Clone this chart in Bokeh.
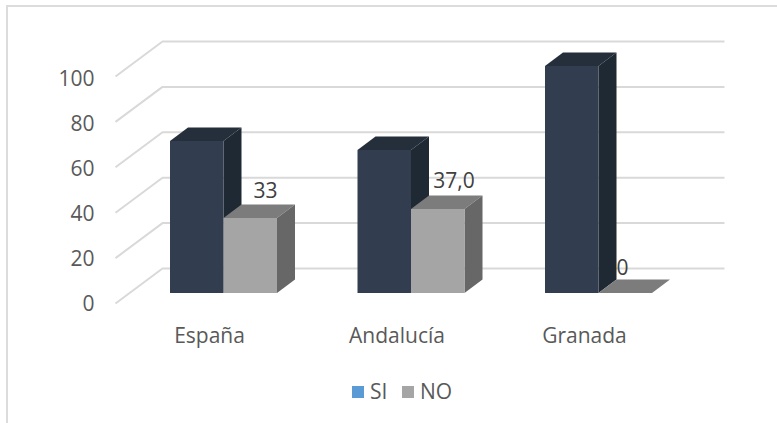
from bokeh.core.properties import value
from bokeh.embed import file_html
from bokeh.models import FixedTicker, Legend, LegendItem, LinearAxis, Range1d
from bokeh.plotting import figure
from bokeh.resources import INLINE

categories = ["España", "Andalucía", "Granada"]
si_values = [67, 63, 100]
no_values = [33, 37, 0]
no_labels = ["33", "37,0", "0"]
y_ticks = [0, 20, 40, 60, 80, 100]
series_names = ["SI", "NO"]

FONT = "Open Sans"
TXT = "#595959"
ORG_X, ORG_Y = 8, 7
LEFT, RIGHT, TOP, BOTTOM = 100, 760, 20, 412
PX_X, PX_Y, X0_PX, Y0_PX = 187.5, 2.27, 223, 292.5
BAR_W = 53.5 / PX_X
DX, DY = 18 / PX_X, 13.5 / PX_Y
WALL_DY = 24.5 / PX_Y
AXIS_DY = -10.5 / PX_Y
AXIS_PX, AXIS_Y0 = 2.25, 302
LABEL_SHIFT = -14 / PX_X
WALL_L, WALL_R, FRONT_L = (162 - X0_PX) / PX_X, (724 - X0_PX) / PX_X, (115 - X0_PX) / PX_X


def xd(px):
    return (px - X0_PX) / PX_X


def yd(px):
    return (Y0_PX - px) / PX_Y


W, H = 777 - ORG_X, 423 - ORG_Y
p = figure(width=W, height=H, output_backend="svg", toolbar_location=None,
           x_range=Range1d(xd(LEFT), xd(RIGHT)), y_range=Range1d(yd(BOTTOM), yd(TOP)),
           frame_width=RIGHT - LEFT, frame_height=BOTTOM - TOP,
           min_border_left=LEFT - ORG_X, min_border_right=777 - RIGHT,
           min_border_top=TOP - ORG_Y, min_border_bottom=423 - BOTTOM,
           x_axis_location=None, y_axis_location=None)
p.styles = {"border-left": "2px solid #DCDCDC", "border-top": "2px solid #DCDCDC",
            "margin-left": "6px", "margin-top": "5px"}
p.outline_line_color = None
p.grid.visible = False

p.extra_y_ranges = {"axis": Range1d((AXIS_Y0 - BOTTOM) / AXIS_PX, (AXIS_Y0 - TOP) / AXIS_PX)}
ya = LinearAxis(y_range_name="axis", ticker=FixedTicker(ticks=y_ticks))
ya.axis_line_color = None
ya.major_tick_line_color = None
ya.minor_tick_line_color = None
ya.major_label_standoff = 0
ya.major_label_text_font = FONT
ya.major_label_text_font_size = "21px"
ya.major_label_text_color = TXT
p.add_layout(ya, "left")

xa = LinearAxis(ticker=FixedTicker(ticks=[i + LABEL_SHIFT for i in range(len(categories))]))
xa.major_label_overrides = {i + LABEL_SHIFT: c for i, c in enumerate(categories)}
xa.axis_line_color = None
xa.major_tick_line_color = None
xa.minor_tick_line_color = None
xa.major_label_standoff = -98
xa.major_label_text_font = FONT
xa.major_label_text_font_size = "21px"
xa.major_label_text_color = TXT
p.add_layout(xa, "below")

p.multi_line(xs=[[FRONT_L, WALL_L, WALL_R] for _ in y_ticks],
             ys=[[t + AXIS_DY, t + WALL_DY, t + WALL_DY] for t in y_ticks],
             line_color="#D9D9D9", line_width=2)


def draw_bars(vals, offset, front, top, side):
    x1 = [i + offset for i in range(len(vals))]
    x2 = [x + BAR_W for x in x1]
    p.patches(xs=[[a, a + DX, b + DX, b] for a, b in zip(x1, x2)],
              ys=[[v, v + DY, v + DY, v] for v in vals], fill_color=top, line_color=None)
    p.patches(xs=[[b, b + DX, b + DX, b] for b in x2],
              ys=[[0, DY, v + DY, v] for v in vals], fill_color=side, line_color=None)
    p.quad(left=x1, right=x2, bottom=[0] * len(vals), top=vals, fill_color=front, line_color=None)


draw_bars(si_values, -BAR_W, "#323E4F", "#252F3C", "#1F2933")
draw_bars(no_values, 0, "#A5A5A5", "#7C7C7C", "#676767")

label_dx = [42 / PX_X, 43 / PX_X, 24 / PX_X]
label_dy = [27.7 / PX_Y, 29 / PX_Y, 26.5 / PX_Y]
p.text(x=[i + d for i, d in enumerate(label_dx)],
       y=[v + d for v, d in zip(no_values, label_dy)],
       text=no_labels, text_font=value(FONT), text_font_size="21px", text_color="#404040",
       text_align="center", text_baseline="middle")

nan = float("nan")
si_leg = p.quad(left=[nan], right=[nan], top=[nan], bottom=[nan], fill_color="#5B9BD5", line_color=None)
no_leg = p.quad(left=[nan], right=[nan], top=[nan], bottom=[nan], fill_color="#A5A5A5", line_color=None)
legend = Legend(items=[LegendItem(label=series_names[0], renderers=[si_leg]),
                       LegendItem(label=series_names[1], renderers=[no_leg])],
                orientation="horizontal", location=(350 - LEFT, BOTTOM - 405),
                padding=0, margin=0, spacing=10, glyph_width=15, glyph_height=15, label_standoff=5,
                background_fill_alpha=0, border_line_color=None,
                label_text_font=FONT, label_text_font_size="21px", label_text_color=TXT)
p.add_layout(legend, "center")

open("out.html", "w").write(file_html(p, INLINE))
